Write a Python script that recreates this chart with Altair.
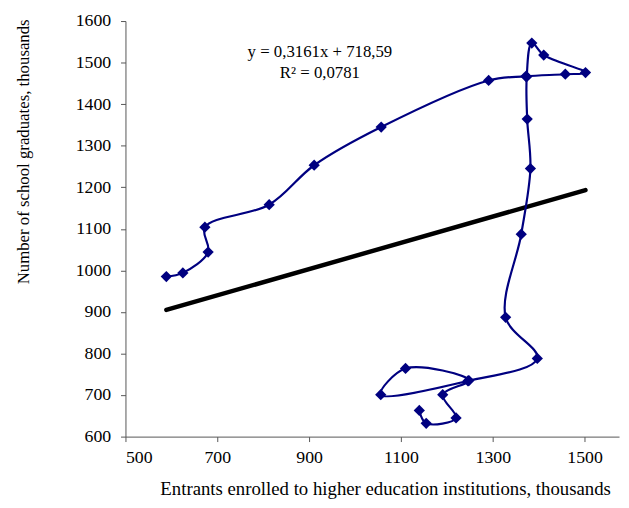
import altair as alt
import pandas as pd

# Entrants enrolled to higher education institutions (thousands), in path order
entrants = [589, 625, 680, 673, 813, 911, 1057, 1291, 1372, 1458, 1502, 1411,
            1385, 1374, 1375, 1382, 1362, 1328, 1397, 1246, 1056, 1110, 1248,
            1191, 1220, 1155, 1140]
# Number of school graduates (thousands)
graduates = [985, 994, 1044, 1104, 1158, 1253, 1345, 1457, 1467, 1472, 1476, 1518,
             1547, 1466, 1364, 1245, 1087, 887, 788, 734, 701, 764, 735,
             701, 645, 632, 663]

slope = 0.3161
intercept = 718.59
x_ticks = [500, 700, 900, 1100, 1300, 1500]
y_ticks = [600, 700, 800, 900, 1000, 1100, 1200, 1300, 1400, 1500, 1600]
eq_lines = ["y = 0,3161x + 718,59", "R\u00b2 = 0,0781"]

df = pd.DataFrame({"x": entrants, "y": graduates, "i": list(range(len(entrants)))})
xmin, xmax = min(entrants), max(entrants)
trend = pd.DataFrame({"x": [xmin, xmax],
                      "y": [slope * xmin + intercept, slope * xmax + intercept]})

FONT = "Liberation Serif"
NAVY = "#000080"

xs = alt.Scale(domain=[500, 1575], nice=False, zero=False)
ys = alt.Scale(domain=[600, 1600], nice=False, zero=False)

xax = alt.Axis(values=x_ticks, grid=False, format="d",
               title="Entrants enrolled to higher education institutions, thousands",
               titleX=263, titleY=53, titleBaseline="middle", titleAlign="center",
               titleFontSize=19, labelPadding=7, tickSize=5)
yax = alt.Axis(values=y_ticks, grid=False, format="d",
               title="Number of school graduates, thousands",
               titleX=-103, titleY=132, titleAngle=-90, titleBaseline="middle", titleAlign="center",
               titleFontSize=17, labelPadding=10, tickSize=5)

X = alt.X("x:Q", scale=xs, axis=xax)
Y = alt.Y("y:Q", scale=ys, axis=yax)

tl = alt.Chart(trend).mark_line(color="black", strokeWidth=4.5, strokeCap="round").encode(x=X, y=Y)
line = alt.Chart(df).mark_line(color=NAVY, strokeWidth=2.2, interpolate="catmull-rom").encode(
    x=X, y=Y, order="i:Q")
pts = alt.Chart(df).mark_point(shape="diamond", filled=True, color=NAVY, size=130, opacity=1).encode(
    x=X, y=Y)

t1 = alt.Chart(pd.DataFrame({"t": [eq_lines[0]]})).mark_text(
    font=FONT, fontSize=17, color="black", align="center", baseline="middle"
).encode(text="t:N", x=alt.value(197), y=alt.value(31))
t2 = alt.Chart(pd.DataFrame({"t": [eq_lines[1]]})).mark_text(
    font=FONT, fontSize=17, color="black", align="center", baseline="middle"
).encode(text="t:N", x=alt.value(197), y=alt.value(53))

chart = alt.layer(tl, line, pts, t1, t2).properties(
    width=500, height=421,
    autosize=alt.AutoSizeParams(type="none"),
    padding={"left": 119, "top": 10, "right": 2, "bottom": 61},
).configure_view(stroke=None).configure_axis(
    labelFont=FONT, titleFont=FONT, labelFontSize=18,
    labelColor="black", titleColor="black", titleFontWeight="normal",
    domainColor="#555555", tickColor="#555555", domainWidth=1, tickWidth=1,
)

chart.save("out.html", embed_options={"renderer": "svg", "actions": False})
